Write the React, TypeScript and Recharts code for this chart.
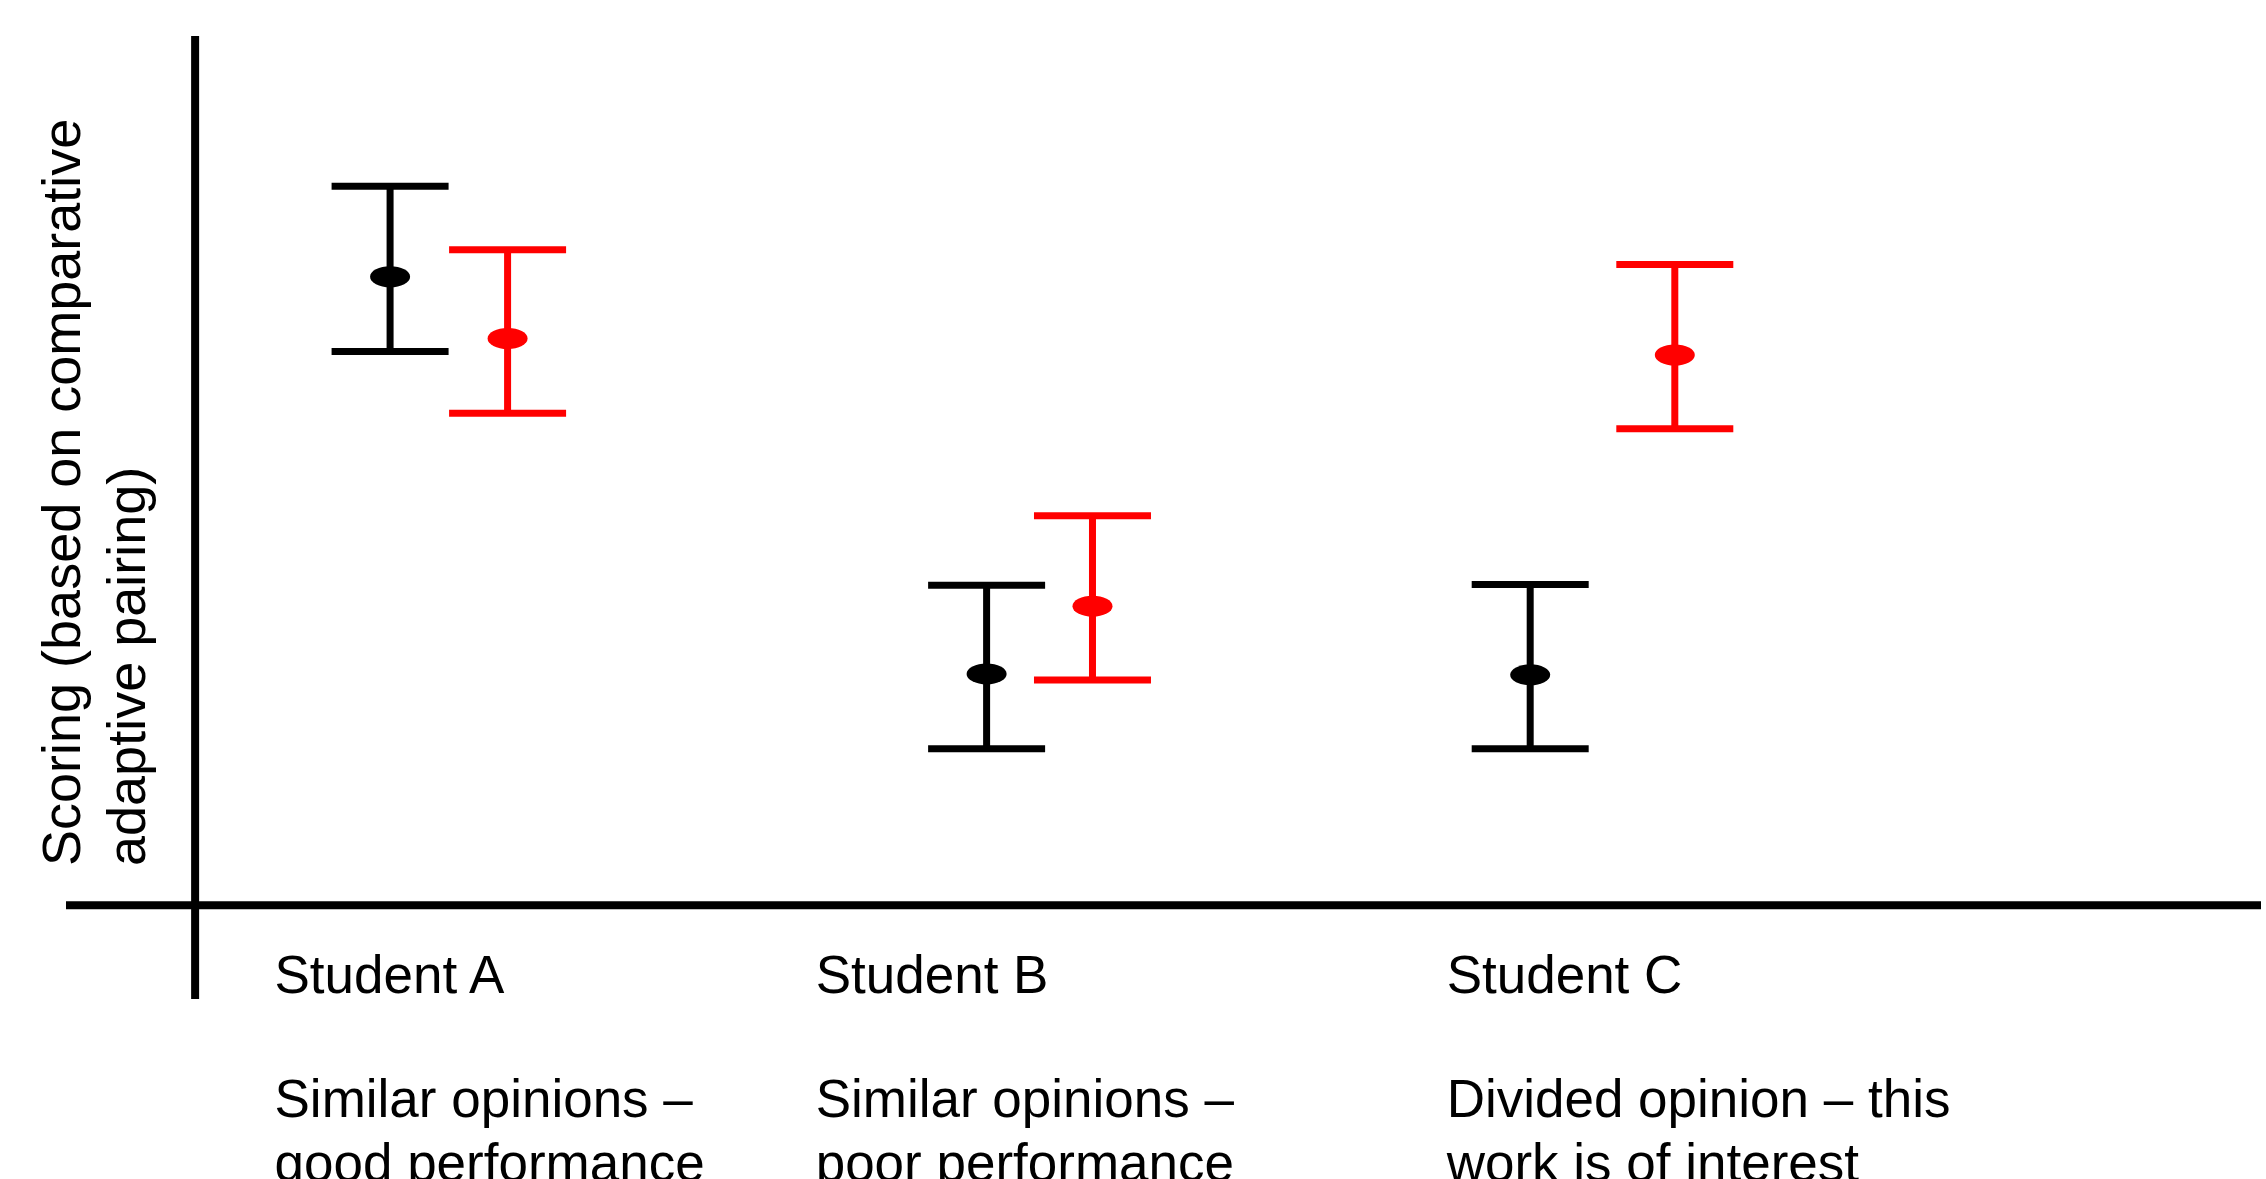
import { ScatterChart, Scatter, XAxis, YAxis, ErrorBar, ReferenceLine, Label } from "recharts";

const FONT = "'Liberation Sans', Arial, sans-serif";

const students = ["Student A", "Student B", "Student C"];
const descriptions = [
  ["Similar opinions –", "good performance"],
  ["Similar opinions –", "poor performance"],
  ["Divided opinion – this", "work is of interest"],
];
// where each student's caption starts on the x scale
const labelTicks = [0.615, 4.806, 9.693];

const yTitleLines = ["Scoring (based on comparative", "adaptive pairing)"];

// black = first set of judges, red = second set
const blackX = [1.51, 6.13, 10.34];
const blackScore = [7.23, 2.66, 2.65];
const blackError = [
  [0.86, 1.04],
  [0.86, 1.02],
  [0.85, 1.04],
];

const redX = [2.42, 6.95, 11.46];
const redScore = [6.52, 3.44, 6.33];
const redError = [
  [0.86, 1.02],
  [0.85, 1.04],
  [0.85, 1.04],
];

const blackData = blackX.map((x, i) => ({ x, y: blackScore[i], err: blackError[i] }));
const redData = redX.map((x, i) => ({ x, y: redScore[i], err: redError[i] }));

const StudentTick = (props: any) => {
  const { x, y, index } = props;
  const desc = descriptions[index] || [];
  return (
    <g>
      <text x={x} y={y - 6} fontSize={53} fontFamily={FONT} fill="#000">
        {students[index]}
      </text>
      {desc.map((line, i) => (
        <text key={i} x={x} y={y + 118 + i * 64} fontSize={53} fontFamily={FONT} fill="#000">
          {line}
        </text>
      ))}
    </g>
  );
};

const YTitle = (props: any) => {
  const vb = props.viewBox || { x: 0, y: 36, width: 66, height: 963 };
  const by = vb.y + vb.height - 133;
  return (
    <g>
      {yTitleLines.map((line, i) => {
        const bx = vb.x + 80 + i * 65;
        return (
          <text
            key={i}
            x={bx}
            y={by}
            transform={`rotate(-90, ${bx}, ${by})`}
            fontSize={54}
            fontFamily={FONT}
            fill="#000"
          >
            {line}
          </text>
        );
      })}
    </g>
  );
};

const blackDot = (p: any) => <ellipse cx={p.cx} cy={p.cy} rx={20} ry={10.5} fill="#000000" />;
const redDot = (p: any) => <ellipse cx={p.cx} cy={p.cy} rx={20} ry={10.5} fill="#ff0000" />;

export default function App() {
  return (
    <div style={{ position: "absolute", left: 0, top: 0, background: "#fff" }}>
      <ScatterChart width={2266} height={1179} margin={{ top: 36, right: 5, bottom: 0, left: 0 }}>
        <XAxis
          type="number"
          dataKey="x"
          domain={[-1, 16]}
          ticks={labelTicks}
          interval={0}
          tick={<StudentTick />}
          tickLine={false}
          axisLine={false}
          tickSize={0}
          tickMargin={0}
          height={180}
        />
        <YAxis
          type="number"
          dataKey="y"
          domain={[-1.08, 10]}
          width={66}
          tick={false}
          tickLine={false}
          axisLine={false}
        >
          <Label content={(p: any) => <YTitle {...p} />} />
        </YAxis>
        <ReferenceLine x={0} stroke="#000" strokeWidth={8} />
        <ReferenceLine y={0} stroke="#000" strokeWidth={8} />
        <Scatter data={blackData} fill="#000" shape={blackDot} isAnimationActive={false}>
          <ErrorBar dataKey="err" direction="y" width={58.5} strokeWidth={7} stroke="#000" isAnimationActive={false} />
        </Scatter>
        <Scatter data={redData} fill="#ff0000" shape={redDot} isAnimationActive={false}>
          <ErrorBar dataKey="err" direction="y" width={58.5} strokeWidth={7} stroke="#ff0000" isAnimationActive={false} />
        </Scatter>
      </ScatterChart>
    </div>
  );
}
